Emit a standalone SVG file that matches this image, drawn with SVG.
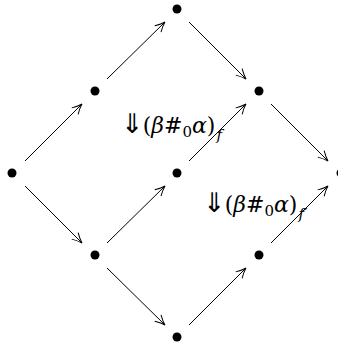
<svg xmlns="http://www.w3.org/2000/svg" width="338" height="346" viewBox="0 0 338 346">
<style>
.dot{fill:#000}
.e{stroke:#000;stroke-width:1;fill:none;marker-end:url(#ah)}
.lbl{font-family:"DejaVu Serif",serif;font-size:22px;fill:#000}
.it{font-style:italic}
.dar{font-family:"DejaVu Sans",sans-serif;font-size:27px}
.sub{font-size:15px}
</style>
<defs>
<marker id="ah" markerWidth="14" markerHeight="14" viewBox="-12 -7 14 14" refX="0" refY="0" orient="auto" markerUnits="userSpaceOnUse">
<path d="M-10,-4.5 Q-4,-1 0,0 Q-4,1 -10,4.5" fill="none" stroke="#000" stroke-width="1"/>
</marker>
</defs>
<rect width="338" height="346" fill="#fff"/>
<g id="connectors">
<line class="e" x1="107" y1="79" x2="165" y2="22"/>
<line class="e" x1="189" y1="22" x2="246" y2="79"/>
<line class="e" x1="25" y1="161" x2="82" y2="104"/>
<line class="e" x1="271" y1="104" x2="328" y2="161"/>
<line class="e" x1="189" y1="161" x2="246" y2="104"/>
<line class="e" x1="25" y1="186" x2="82" y2="243"/>
<line class="e" x1="107" y1="243" x2="165" y2="186"/>
<line class="e" x1="271" y1="243" x2="328" y2="186"/>
<line class="e" x1="107" y1="268" x2="165" y2="325"/>
<line class="e" x1="189" y1="325" x2="246" y2="268"/>
</g>
<g id="n-top"><circle class="dot" cx="177" cy="9" r="4.5"/></g>
<g id="n-ul"><circle class="dot" cx="95" cy="91" r="4.5"/></g>
<g id="n-ur"><circle class="dot" cx="259" cy="91" r="4.5"/></g>
<g id="n-left"><circle class="dot" cx="12" cy="173" r="4.5"/></g>
<g id="n-center"><circle class="dot" cx="177" cy="173" r="4.5"/></g>
<g id="n-right"><circle class="dot" cx="341" cy="173" r="4.5"/></g>
<g id="n-ll"><circle class="dot" cx="95" cy="255" r="4.5"/></g>
<g id="n-lr"><circle class="dot" cx="259" cy="255" r="4.5"/></g>
<g id="n-bottom"><circle class="dot" cx="177" cy="337" r="4.5"/></g>
<g id="label-f">
<text class="lbl" x="121" y="133"><tspan class="dar">⇓</tspan><tspan dx="-1">(</tspan><tspan class="it">β</tspan>#<tspan class="sub" dy="4">0</tspan><tspan class="it" dy="-4">α</tspan>)<tspan class="it sub" dx="1" dy="7">f</tspan></text>
</g>
<g id="label-f2">
<text class="lbl" x="203" y="212"><tspan class="dar">⇓</tspan><tspan dx="-1">(</tspan><tspan class="it">β</tspan>#<tspan class="sub" dy="4">0</tspan><tspan class="it" dy="-4">α</tspan>)<tspan class="it sub" dx="1" dy="7">f′</tspan></text>
</g>
</svg>
